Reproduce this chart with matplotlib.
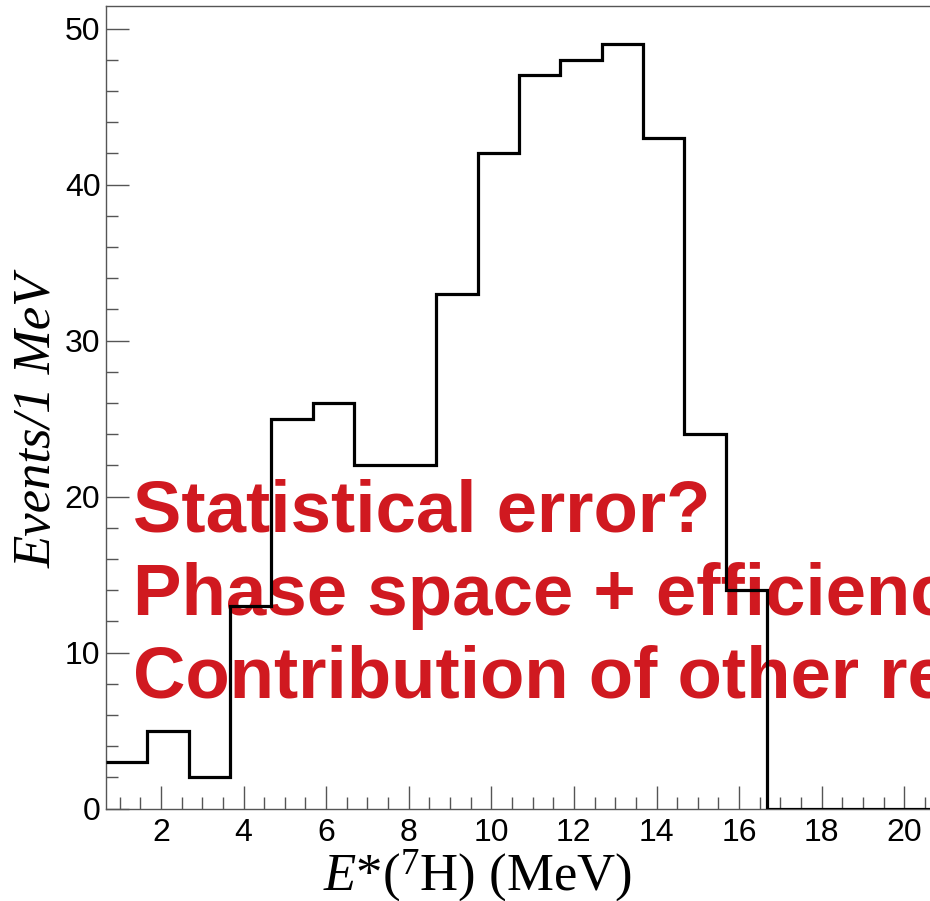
import numpy as np
import matplotlib
matplotlib.use("Agg")
import matplotlib.pyplot as plt
from matplotlib.ticker import MultipleLocator

# histogram: 20 bins of 1 MeV starting at 0.67 MeV
counts = [3, 5, 2, 13, 25, 26, 22, 22, 33, 42, 47, 48, 49, 43, 24, 14, 0, 0, 0, 0]
e_low, e_high = 0.67, 20.67
edges = np.linspace(e_low, e_high, len(counts) + 1)

notes = ["Statistical error?",
         "Phase space + efficiency?",
         "Contribution of other reactions?"]

plt.rcParams['mathtext.fontset'] = 'custom'
plt.rcParams['mathtext.rm'] = 'Liberation Serif'
plt.rcParams['mathtext.it'] = 'Liberation Serif:italic'

fig = plt.figure(figsize=(9.3, 9.01), dpi=100)
ax = fig.add_axes([106 / 930, 92.5 / 901, 826 / 930, 802.5 / 901])

# red notes go under the histogram line
for i, s in enumerate(notes):
    fig.text(133 / 930, (901 - 532 - i * 82.5) / 901, s, color="#d01920",
             fontsize=52.3, fontweight="bold", family="Liberation Sans",
             va="baseline", ha="left", zorder=1)

ax.stairs(counts, edges, baseline=None, color="black", linewidth=2.3, zorder=5)

ax.set_xlim(e_low, e_high)
ax.set_ylim(0, 1.05 * max(counts))

ax.xaxis.set_major_locator(MultipleLocator(2))
ax.xaxis.set_minor_locator(MultipleLocator(0.5))
ax.yaxis.set_major_locator(MultipleLocator(10))
ax.yaxis.set_minor_locator(MultipleLocator(2))
ax.tick_params(which="both", direction="in", top=False, right=False, color="#555555",
               labelsize=23)
ax.tick_params(which="major", length=16.5, width=1)
ax.tick_params(which="minor", length=8.6, width=1)
ax.tick_params(axis="x", pad=7)
ax.tick_params(axis="y", pad=4)
for lab in ax.get_xticklabels() + ax.get_yticklabels():
    lab.set_family("Liberation Sans")

for sp in ax.spines.values():
    sp.set_color("#555555")
    sp.set_linewidth(1)
ax.patch.set_alpha(0)
ax.set_zorder(2)

ax.set_xlabel(r"$E$*($^{7}$H) (MeV)", family="Liberation Serif", fontsize=38)
ax.set_ylabel("Events/1 MeV", family="Liberation Serif", style="italic",
              fontsize=38)
ax.xaxis.set_label_coords((477 - 106) / 826, -(890 - 808.5) / 802.5)
ax.xaxis.label.set_va("baseline")
ax.yaxis.set_label_coords(-(106 - 51) / 826, (808.5 - 421) / 802.5)
ax.yaxis.label.set_va("baseline")

fig.savefig("out.png", dpi=100)
